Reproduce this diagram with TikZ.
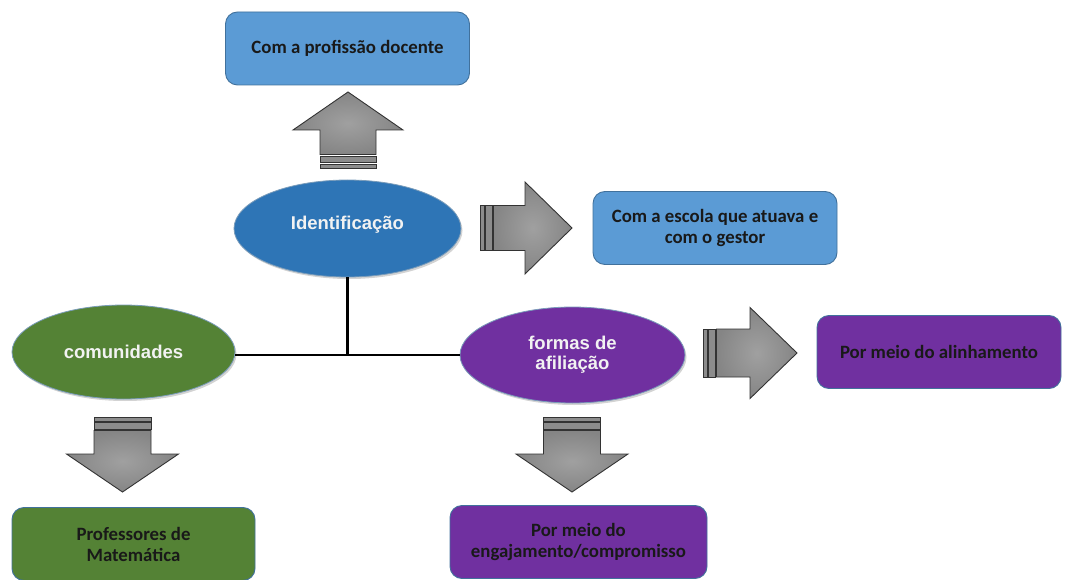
\documentclass[tikz,border=0pt]{standalone}
\usepackage{fontspec}
\setmainfont{Carlito}
\newfontfamily\ellfont{Liberation Sans}
\usetikzlibrary{shadows,shapes.geometric}

\definecolor{lightblue}{HTML}{5B9BD5}
\definecolor{darkblue}{HTML}{2E75B6}
\definecolor{leafgreen}{HTML}{548235}
\definecolor{violet}{HTML}{7030A0}
\definecolor{rimblue}{HTML}{41719C}
\definecolor{arrowline}{HTML}{333333}
\definecolor{arrowlight}{HTML}{A0A0A0}
\definecolor{arrowdark}{HTML}{858585}
\definecolor{stripegray}{HTML}{8C8C8C}

\tikzset{
  bubble/.style={ellipse, draw=rimblue!70, line width=0.8pt,
    minimum width=226pt, minimum height=96pt, inner sep=0pt,
    font=\ellfont\bfseries\fontsize{18.5}{20}\selectfont, text=white!95!black,
    align=center, drop shadow={shadow xshift=1.5pt, shadow yshift=-2pt, opacity=0.35}},
  card/.style={rounded corners=12pt, draw=rimblue, line width=0.9pt,
    minimum width=244pt, minimum height=73pt, inner sep=0pt,
    font=\bfseries\fontsize{18.8}{21}\selectfont, text=black!90, align=center},
  linkline/.style={line width=2.4pt, black},
  arrowbody/.style={draw=arrowline, line width=0.9pt, inner color=arrowlight, outer color=arrowdark},
  arrowstripe/.style={draw=arrowline, line width=0.9pt, fill=stripegray},
}

% block arrow pointing along +x from the origin:
% #1 length, #2 head length, #3 shaft half width, #4 head half width
\newcommand\blockarrowshape[4]{%
  \draw[arrowstripe] (0,-#3) rectangle (4,#3);
  \draw[arrowstripe] (5.5,-#3) rectangle (12,#3);
  \draw[arrowbody] (13.5,-#3) -- ({#1-#2},-#3) -- ({#1-#2},-#4) -- (#1,0)
     -- ({#1-#2},#4) -- ({#1-#2},#3) -- (13.5,#3) -- cycle;
}

\begin{document}
\begin{tikzpicture}[x=1pt,y=-1pt]
\useasboundingbox (0,0) rectangle (1065,580);

% boxes
\node[card, fill=lightblue] (prof) at (347.5,48.5) {Com a profissão docente};
\node[card, fill=lightblue] (escola) at (715,228) {Com a escola que atuava e\\com o gestor};
\node[card, fill=violet] (alinh) at (939,352) {Por meio do alinhamento};
\node[card, fill=violet, minimum width=257pt] (engaj) at (578.5,542) {Por meio do\\engajamento/compromisso};
\node[card, fill=leafgreen, minimum width=243pt] (profmat) at (133.5,544) {Professores de\\Matemática};

% ellipses
\node[bubble, fill=darkblue, minimum width=227pt, minimum height=97pt] (ident) at (347.5,228.5) {\raisebox{12pt}{Identificação}};
\node[bubble, fill=leafgreen, minimum width=223pt, minimum height=94pt] (comun) at (123.5,352) {comunidades};
\node[bubble, fill=violet, minimum width=225pt, minimum height=96pt] (formas) at (572.5,355) {\raisebox{-2pt}{\begin{tabular}{@{}c@{}}formas de\\afiliação\end{tabular}}};

% connecting lines
\coordinate (hub) at (ident.south |- formas.west);
\draw[linkline] (ident.south) -- (hub);
\draw[linkline] (comun.east |- hub) -- (formas.west);

% block arrows
\begin{scope}[shift={(348,168)}, rotate=90]
  \blockarrowshape{76}{38}{28}{55}
\end{scope}
\begin{scope}[shift={(480,228)}]
  \blockarrowshape{92}{47}{22.5}{46}
\end{scope}
\begin{scope}[shift={(703,353)}]
  \blockarrowshape{94}{47}{24}{45.5}
\end{scope}
\begin{scope}[shift={(122.5,417)}, rotate=-90]
  \blockarrowshape{75}{38}{28.5}{56}
\end{scope}
\begin{scope}[shift={(572,417)}, rotate=-90]
  \blockarrowshape{75}{38}{28.5}{56}
\end{scope}
\end{tikzpicture}
\end{document}
